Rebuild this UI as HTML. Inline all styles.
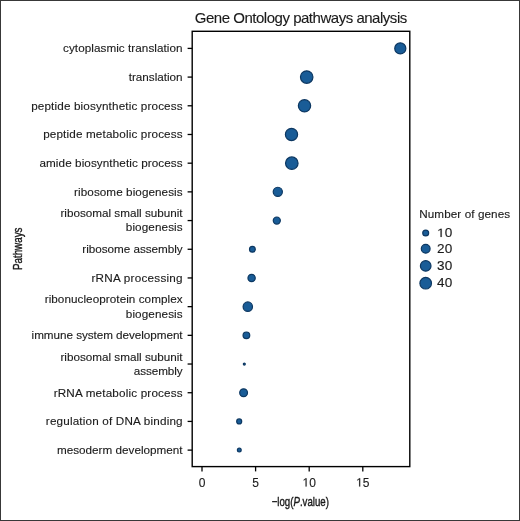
<!DOCTYPE html>
<html><head><meta charset="utf-8"><style>
html,body{margin:0;padding:0;background:#fff;}
body{width:520px;height:521px;overflow:hidden;position:relative;}
.frame{position:absolute;left:0;top:0;width:518px;height:519px;border:1px solid #383838;background:#fff;}
svg{position:absolute;left:0;top:0;will-change:transform;}
svg text{font-family:"Liberation Sans",sans-serif;font-size:11.7px;fill:#1a1a1a;stroke:#1a1a1a;stroke-width:0.12px;}
</style></head><body>
<div class="frame"></div>
<svg width="520" height="521" viewBox="0 0 520 521">
<rect x="192.2" y="31.3" width="217.60" height="435.30" fill="none" stroke="#000" stroke-width="1.4"/>
<line x1="187.6" y1="48.40" x2="192.2" y2="48.40" stroke="#000" stroke-width="1.3"/>
<text id="l0a" x="182.6" y="52.40" text-anchor="end" textLength="119.54" lengthAdjust="spacing">cytoplasmic translation</text>
<circle cx="400.3" cy="48.40" r="5.55" fill="#195c97" stroke="#0d3862" stroke-width="1.2"/>
<line x1="187.6" y1="77.09" x2="192.2" y2="77.09" stroke="#000" stroke-width="1.3"/>
<text id="l1a" x="182.6" y="81.09" text-anchor="end" textLength="53.90" lengthAdjust="spacing">translation</text>
<circle cx="306.7" cy="77.09" r="6.25" fill="#195c97" stroke="#0d3862" stroke-width="1.2"/>
<line x1="187.6" y1="105.79" x2="192.2" y2="105.79" stroke="#000" stroke-width="1.3"/>
<text id="l2a" x="182.6" y="109.79" text-anchor="end" textLength="151.44" lengthAdjust="spacing">peptide biosynthetic process</text>
<circle cx="304.5" cy="105.79" r="6.15" fill="#195c97" stroke="#0d3862" stroke-width="1.2"/>
<line x1="187.6" y1="134.48" x2="192.2" y2="134.48" stroke="#000" stroke-width="1.3"/>
<text id="l3a" x="182.6" y="138.48" text-anchor="end" textLength="139.46" lengthAdjust="spacing">peptide metabolic process</text>
<circle cx="291.5" cy="134.48" r="6.10" fill="#195c97" stroke="#0d3862" stroke-width="1.2"/>
<line x1="187.6" y1="163.18" x2="192.2" y2="163.18" stroke="#000" stroke-width="1.3"/>
<text id="l4a" x="182.6" y="167.18" text-anchor="end" textLength="143.17" lengthAdjust="spacing">amide biosynthetic process</text>
<circle cx="291.8" cy="163.18" r="6.25" fill="#195c97" stroke="#0d3862" stroke-width="1.2"/>
<line x1="187.6" y1="191.87" x2="192.2" y2="191.87" stroke="#000" stroke-width="1.3"/>
<text id="l5a" x="182.6" y="195.87" text-anchor="end" textLength="108.50" lengthAdjust="spacing">ribosome biogenesis</text>
<circle cx="277.8" cy="191.87" r="4.60" fill="#195c97" stroke="#0d3862" stroke-width="1.2"/>
<line x1="187.6" y1="220.56" x2="192.2" y2="220.56" stroke="#000" stroke-width="1.3"/>
<text id="l6a" x="182.6" y="217.16" text-anchor="end" textLength="122.17" lengthAdjust="spacing">ribosomal small subunit</text>
<text id="l6b" x="182.6" y="231.46" text-anchor="end" textLength="56.79" lengthAdjust="spacing">biogenesis</text>
<circle cx="276.8" cy="220.56" r="3.55" fill="#195c97" stroke="#0d3862" stroke-width="1.2"/>
<line x1="187.6" y1="249.26" x2="192.2" y2="249.26" stroke="#000" stroke-width="1.3"/>
<text id="l7a" x="182.6" y="253.26" text-anchor="end" textLength="100.24" lengthAdjust="spacing">ribosome assembly</text>
<circle cx="252.4" cy="249.26" r="2.90" fill="#195c97" stroke="#0d3862" stroke-width="1.2"/>
<line x1="187.6" y1="277.95" x2="192.2" y2="277.95" stroke="#000" stroke-width="1.3"/>
<text id="l8a" x="182.6" y="281.95" text-anchor="end" textLength="91.14" lengthAdjust="spacing">rRNA processing</text>
<circle cx="251.6" cy="277.95" r="3.65" fill="#195c97" stroke="#0d3862" stroke-width="1.2"/>
<line x1="187.6" y1="306.65" x2="192.2" y2="306.65" stroke="#000" stroke-width="1.3"/>
<text id="l9a" x="182.6" y="303.25" text-anchor="end" textLength="137.91" lengthAdjust="spacing">ribonucleoprotein complex</text>
<text id="l9b" x="182.6" y="317.55" text-anchor="end" textLength="56.79" lengthAdjust="spacing">biogenesis</text>
<circle cx="247.8" cy="306.65" r="4.70" fill="#195c97" stroke="#0d3862" stroke-width="1.2"/>
<line x1="187.6" y1="335.34" x2="192.2" y2="335.34" stroke="#000" stroke-width="1.3"/>
<text id="l10a" x="182.6" y="339.34" text-anchor="end" textLength="151.00" lengthAdjust="spacing">immune system development</text>
<circle cx="246.4" cy="335.34" r="3.35" fill="#195c97" stroke="#0d3862" stroke-width="1.2"/>
<line x1="187.6" y1="364.03" x2="192.2" y2="364.03" stroke="#000" stroke-width="1.3"/>
<text id="l11a" x="182.6" y="360.63" text-anchor="end" textLength="122.17" lengthAdjust="spacing">ribosomal small subunit</text>
<text id="l11b" x="182.6" y="374.93" text-anchor="end" textLength="48.76" lengthAdjust="spacing">assembly</text>
<circle cx="244.3" cy="364.03" r="1.00" fill="#195c97" stroke="#0d3862" stroke-width="1.2"/>
<line x1="187.6" y1="392.73" x2="192.2" y2="392.73" stroke="#000" stroke-width="1.3"/>
<text id="l12a" x="182.6" y="396.73" text-anchor="end" textLength="128.97" lengthAdjust="spacing">rRNA metabolic process</text>
<circle cx="243.6" cy="392.73" r="3.90" fill="#195c97" stroke="#0d3862" stroke-width="1.2"/>
<line x1="187.6" y1="421.42" x2="192.2" y2="421.42" stroke="#000" stroke-width="1.3"/>
<text id="l13a" x="182.6" y="425.42" text-anchor="end" textLength="136.79" lengthAdjust="spacing">regulation of DNA binding</text>
<circle cx="239.2" cy="421.42" r="2.50" fill="#195c97" stroke="#0d3862" stroke-width="1.2"/>
<line x1="187.6" y1="450.12" x2="192.2" y2="450.12" stroke="#000" stroke-width="1.3"/>
<text id="l14a" x="182.6" y="454.12" text-anchor="end" textLength="125.67" lengthAdjust="spacing">mesoderm development</text>
<circle cx="239.3" cy="450.12" r="1.90" fill="#195c97" stroke="#0d3862" stroke-width="1.2"/>
<line x1="202.00" y1="466.6" x2="202.00" y2="471.4" stroke="#000" stroke-width="1.3"/>
<text transform="translate(198.66,486.60) scale(1.0,1)" style="font-size:12px">0</text>
<line x1="255.60" y1="466.6" x2="255.60" y2="471.4" stroke="#000" stroke-width="1.3"/>
<text transform="translate(252.26,486.60) scale(1.0,1)" style="font-size:12px">5</text>
<line x1="309.20" y1="466.6" x2="309.20" y2="471.4" stroke="#000" stroke-width="1.3"/>
<path d="M515 0V1237L197 1010V1180L530 1409H696V0Z" transform="translate(302.53,486.60) scale(0.00586,-0.00586)" fill="#1a1a1a" stroke="#1a1a1a" stroke-width="20.5"/>
<text transform="translate(309.20,486.60) scale(1.0,1)" style="font-size:12px">0</text>
<line x1="362.80" y1="466.6" x2="362.80" y2="471.4" stroke="#000" stroke-width="1.3"/>
<path d="M515 0V1237L197 1010V1180L530 1409H696V0Z" transform="translate(356.13,486.60) scale(0.00586,-0.00586)" fill="#1a1a1a" stroke="#1a1a1a" stroke-width="20.5"/>
<text transform="translate(362.80,486.60) scale(1.0,1)" style="font-size:12px">5</text>
<text x="300.3" y="506.3" text-anchor="middle" style="font-size:12.8px;stroke-width:0.4px" textLength="57.3" lengthAdjust="spacingAndGlyphs">&#8722;log(<tspan font-style="italic">P</tspan>.value)</text>
<text transform="translate(22.4,248.8) rotate(-90)" x="0" y="0" text-anchor="middle" style="font-size:13.2px;stroke-width:0.4px" textLength="42.6" lengthAdjust="spacingAndGlyphs">Pathways</text>
<text x="301" y="22.9" text-anchor="middle" style="font-size:15px" textLength="212.5" lengthAdjust="spacing">Gene Ontology pathways analysis</text>
<text x="419.2" y="217.9" textLength="90.9" lengthAdjust="spacing">Number of genes</text>
<circle cx="425.7" cy="233.0" r="2.95" fill="#195c97" stroke="#0d3862" stroke-width="1.2"/>
<path d="M515 0V1237L197 1010V1180L530 1409H696V0Z" transform="translate(437.10,237.00) scale(0.00662,-0.00586)" fill="#1a1a1a" stroke="#1a1a1a" stroke-width="20.5"/>
<text transform="translate(444.64,237.00) scale(1.13,1)" style="font-size:12px">0</text>
<circle cx="425.7" cy="248.8" r="4.40" fill="#195c97" stroke="#0d3862" stroke-width="1.2"/>
<text transform="translate(437.10,252.80) scale(1.13,1)" style="font-size:12px">2</text>
<text transform="translate(444.64,252.80) scale(1.13,1)" style="font-size:12px">0</text>
<circle cx="425.7" cy="265.9" r="5.30" fill="#195c97" stroke="#0d3862" stroke-width="1.2"/>
<text transform="translate(437.10,269.90) scale(1.13,1)" style="font-size:12px">3</text>
<text transform="translate(444.64,269.90) scale(1.13,1)" style="font-size:12px">0</text>
<circle cx="425.7" cy="283.2" r="5.80" fill="#195c97" stroke="#0d3862" stroke-width="1.2"/>
<text transform="translate(437.10,287.20) scale(1.13,1)" style="font-size:12px">4</text>
<text transform="translate(444.64,287.20) scale(1.13,1)" style="font-size:12px">0</text>
</svg>
</body></html>
